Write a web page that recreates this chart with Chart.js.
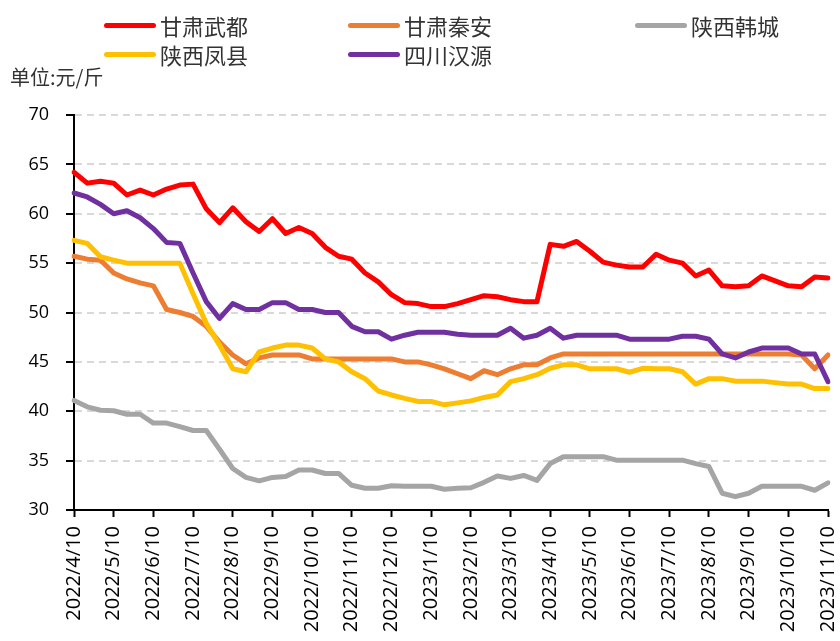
<!DOCTYPE html>
<html>
<head>
<meta charset="utf-8">
<script src="https://cdn.jsdelivr.net/npm/chart.js@4"></script>
<style>
html,body{margin:0;padding:0;background:#fff;overflow:hidden}
#wrap{position:relative;width:840px;height:641px}
.leg{position:absolute;height:30px;display:flex;align-items:center;font-family:"Noto Sans CJK SC";font-size:22px;color:#333;white-space:nowrap}
.leg i{display:inline-block;width:52px;height:5px;border-radius:3px;margin-right:4px}
#unit{position:absolute;left:10px;top:63px;font-family:"Noto Sans CJK SC";font-size:20px;color:#333;line-height:28px}
</style>
</head>
<body>
<div id="wrap">
  <canvas id="chart" width="840" height="641"></canvas>
  <div id="unit">单位:元/斤</div>
</div>
<script>
// categories: one point every 10 days
const dates = [
  "2022/4/10","2022/4/20","2022/4/30","2022/5/10","2022/5/20","2022/5/30",
  "2022/6/10","2022/6/20","2022/6/30","2022/7/10","2022/7/20","2022/7/30",
  "2022/8/10","2022/8/20","2022/8/30","2022/9/10","2022/9/20","2022/9/30",
  "2022/10/10","2022/10/20","2022/10/30","2022/11/10","2022/11/20","2022/11/30",
  "2022/12/10","2022/12/20","2022/12/30","2023/1/10","2023/1/20","2023/1/30",
  "2023/2/10","2023/2/20","2023/2/28","2023/3/10","2023/3/20","2023/3/30",
  "2023/4/10","2023/4/20","2023/4/30","2023/5/10","2023/5/20","2023/5/30",
  "2023/6/10","2023/6/20","2023/6/30","2023/7/10","2023/7/20","2023/7/30",
  "2023/8/10","2023/8/20","2023/8/30","2023/9/10","2023/9/20","2023/9/30",
  "2023/10/10","2023/10/20","2023/10/30","2023/11/10"
];

// prices, 元/斤
const gansuWudu = [64.2,63.1,63.3,63.1,61.9,62.4,61.9,62.5,62.9,63.0,
  60.5,59.1,60.6,59.2,58.2,59.5,58.0,58.6,58.0,56.6,
  55.7,55.4,54.0,53.1,51.8,51.0,50.9,50.6,50.6,50.9,
  51.3,51.7,51.6,51.3,51.1,51.1,56.9,56.7,57.2,56.2,
  55.1,54.8,54.6,54.6,55.9,55.3,55.0,53.7,54.3,52.7,
  52.6,52.7,53.7,53.2,52.7,52.6,53.6,53.5];
const gansuQinan = [55.7,55.4,55.3,54.0,53.4,53.0,52.7,50.3,50.0,49.6,
  48.6,47.0,45.7,44.8,45.4,45.7,45.7,45.7,45.3,45.3,
  45.3,45.3,45.3,45.3,45.3,45.0,45.0,44.7,44.3,43.8,
  43.3,44.1,43.7,44.3,44.7,44.7,45.4,45.8,45.8,45.8,
  45.8,45.8,45.8,45.8,45.8,45.8,45.8,45.8,45.8,45.8,
  45.8,45.8,45.8,45.8,45.8,45.7,44.3,45.7];
const shaanxiHancheng = [41.1,40.45,40.1,40.05,39.7,39.7,38.8,38.8,38.45,38.05,
  38.05,36.15,34.2,33.3,32.95,33.3,33.4,34.05,34.05,33.7,
  33.7,32.5,32.2,32.2,32.45,32.4,32.4,32.4,32.1,32.2,
  32.25,32.8,33.45,33.2,33.5,33.0,34.7,35.4,35.4,35.4,
  35.4,35.05,35.05,35.05,35.05,35.05,35.05,34.7,34.4,31.7,
  31.35,31.7,32.4,32.4,32.4,32.4,32.0,32.75];
const shaanxiFengxian = [57.3,57.0,55.65,55.3,55.0,55.0,55.0,55.0,55.0,51.9,
  48.9,46.7,44.3,44.0,46.0,46.4,46.7,46.7,46.4,45.3,
  45.0,44.0,43.3,42.05,41.65,41.3,41.0,41.0,40.65,40.85,
  41.05,41.4,41.65,43.0,43.3,43.7,44.35,44.7,44.7,44.3,
  44.3,44.3,43.95,44.35,44.3,44.3,44.0,42.75,43.3,43.3,
  43.05,43.05,43.05,42.9,42.75,42.75,42.3,42.3];
const sichuanHanyuan = [62.1,61.7,60.95,60.0,60.3,59.6,58.5,57.1,57.0,54.0,
  51.1,49.4,50.9,50.3,50.3,51.0,51.0,50.3,50.3,50.0,
  50.0,48.6,48.05,48.05,47.3,47.7,48.0,48.0,48.0,47.8,
  47.7,47.7,47.7,48.4,47.4,47.7,48.4,47.4,47.7,47.7,
  47.7,47.7,47.3,47.3,47.3,47.3,47.6,47.6,47.3,45.8,
  45.4,46.0,46.4,46.4,46.4,45.8,45.8,43.0];

const names = ["甘肃武都","甘肃秦安","陕西韩城","陕西凤县","四川汉源"];
const colors = ["#FF0000","#ED7D31","#A5A5A5","#FFC000","#7030A0"];
const series = [gansuWudu, gansuQinan, shaanxiHancheng, shaanxiFengxian, sichuanHanyuan];

// legend, 3 columns like the original
const legX = [104, 348, 635];
const legY = [25, 54];
const wrap = document.getElementById("wrap");
names.forEach((n,i)=>{
  const d = document.createElement("div");
  d.className = "leg";
  d.style.left = legX[i%3] + "px";
  d.style.top = (legY[Math.floor(i/3)] - 15) + "px";
  d.innerHTML = `<i style="background:${colors[i]}"></i>${n}`;
  wrap.appendChild(d);
});

const ctx = document.getElementById("chart").getContext("2d");
new Chart(ctx,{
  type:'line',
  data:{
    labels:dates,
    datasets:series.map((s,i)=>({
      label:names[i],
      data:s,
      borderColor:colors[i],
      backgroundColor:colors[i],
      order:names.length-i
    }))
  },
  options:{
    responsive:false,
    animation:false,
    layout:{autoPadding:false, padding:{left:0,right:12,top:115,bottom:0}},
    plugins:{legend:{display:false}, tooltip:{enabled:false}},
    elements:{
      point:{radius:0},
      line:{borderWidth:5, tension:0, borderJoinStyle:'round', borderCapStyle:'round'}
    },
    scales:{
      x:{
        grid:{drawOnChartArea:false, tickLength:7, tickWidth:2,
          tickColor:c=>c.index%3===0 ? '#000' : 'rgba(0,0,0,0)'},
        border:{color:'#000', width:2},
        ticks:{autoSkip:false, maxRotation:90, minRotation:90, padding:9, color:'#000',
          font:{family:'Open Sans', size:20},
          callback(v,i){ return i%3===0 ? this.getLabelForValue(v) : ''; }},
        afterFit(s){ s.height = 131; s.paddingLeft = 0; s.paddingRight = 0; }
      },
      y:{
        min:30, max:70,
        ticks:{stepSize:5, padding:17, color:'#000', font:{family:'Open Sans', size:18}},
        grid:{color:'#D9D9D9', lineWidth:2, tickLength:8, tickWidth:2, tickColor:'#000'},
        border:{color:'#000', width:2, dash:[7,5]},
        afterFit(s){ s.width = 74; }
      }
    }
  }
});
</script>
</body>
</html>
